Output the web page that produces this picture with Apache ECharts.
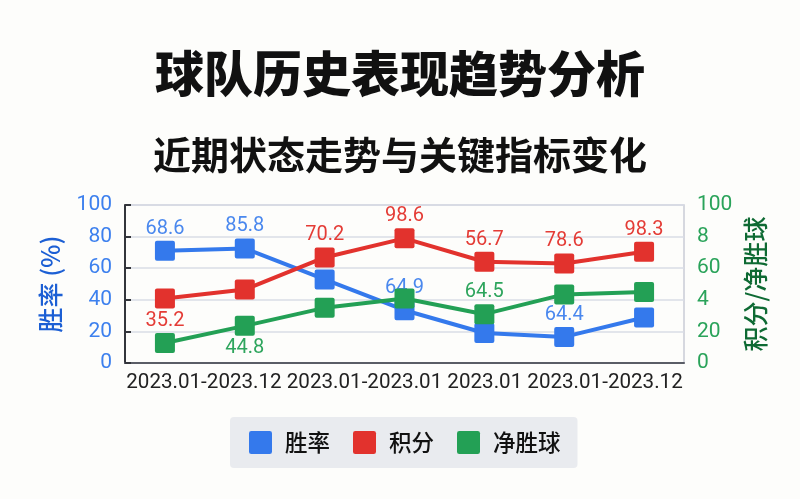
<!DOCTYPE html>
<html>
<head>
<meta charset="utf-8">
<script src="https://cdn.jsdelivr.net/npm/echarts@6/dist/echarts.min.js"></script>
<style>
html,body{margin:0;padding:0;background:#fdfdfb;}
#c{width:800px;height:499px;}
</style>
</head>
<body>
<div id="c"></div>
<script>
// ---- data ----
const categories = ['第1期', '第2期', '第3期', '第4期', '第5期', '第6期', '第7期'];
const xTickLabels = ['2023.01-2023.12', '2023.01-2023.01', '2023.01', '2023.01-2023.12'];
const leftTickLabels = ['0', '20', '40', '60', '80', '100'];
const rightTickLabels = ['0', '20', '4', '60', '8', '100'];
const seriesNames = ['胜率', '积分', '净胜球'];
const winRate = [71.0, 72.5, 52.9, 33.4, 19.0, 16.5, 28.8];
const points = [40.8, 46.5, 66.8, 78.9, 64.1, 63.0, 70.4];
const goalDiff = [12.7, 23.5, 34.9, 40.8, 30.9, 43.4, 45.0];
const winRateLabels = ['68.6', '85.8', '', '64.9', '', '64.4', ''];
const pointsLabels = ['35.2', '', '70.2', '98.6', '56.7', '78.6', '98.3'];
const goalDiffLabels = ['', '44.8', '', '', '64.5', '', ''];

const colors = ['#3479ec', '#e2322d', '#23a055'];
const labelColors = ['#4a88ee', '#e43c36', '#2ea55d'];
const FONT = "Roboto, 'Noto Sans CJK SC', sans-serif";
const CJK = "'Noto Sans CJK SC', sans-serif";
const squareIcon = 'path://M2,0 H18 A2,2 0 0 1 20,2 V18 A2,2 0 0 1 18,20 H2 A2,2 0 0 1 0,18 V2 A2,2 0 0 1 2,0 Z';

function buildSeries(idx, values, labels, belowIdx, yAxisIndex) {
  return {
    name: seriesNames[idx],
    type: 'line',
    yAxisIndex: yAxisIndex,
    data: values.map((v, i) => ({
      value: v,
      label: { position: belowIdx.indexOf(i) >= 0 ? 'bottom' : 'top' }
    })),
    symbol: squareIcon,
    symbolSize: 20,
    lineStyle: { width: 4, color: colors[idx] },
    itemStyle: { color: colors[idx] },
    label: {
      show: true,
      distance: 2,
      fontFamily: FONT,
      fontSize: 20,
      color: labelColors[idx],
      formatter: p => labels[p.dataIndex]
    },
    z: 3 + idx
  };
}

const chart = echarts.init(document.getElementById('c'));
chart.setOption({
  backgroundColor: '#fdfdfb',
  animation: false,
  color: colors,
  title: [
    {
      text: '球队历史表现趋势分析',
      left: 'center',
      top: 44,
      textStyle: { fontFamily: CJK, fontSize: 49, fontWeight: 900, color: '#111' }
    },
    {
      text: '近期状态走势与关键指标变化',
      left: 'center',
      top: 131,
      textStyle: { fontFamily: CJK, fontSize: 38, fontWeight: 700, color: '#111' }
    }
  ],
  legend: {
    bottom: 31,
    left: 230,
    data: seriesNames.map(n => ({ name: n, icon: squareIcon })),
    itemWidth: 23,
    itemHeight: 23,
    itemGap: 23,
    backgroundColor: '#e9ebef',
    borderRadius: 4,
    padding: [14, 17, 14, 19],
    textStyle: { fontFamily: CJK, fontSize: 22.5, fontWeight: 500, color: '#111', padding: [0, 0, 0, 8] }
  },
  grid: {
    left: 125, right: 116, top: 205, bottom: 136,
    show: true, borderColor: '#c9ccd6', borderWidth: 1.5
  },
  xAxis: {
    type: 'category',
    data: categories,
    boundaryGap: true,
    axisLine: { lineStyle: { color: '#5a5d66', width: 2 } },
    axisTick: { show: false },
    axisLabel: {
      interval: 0,
      margin: 10,
      fontFamily: FONT,
      fontSize: 20.6,
      color: '#222',
      formatter: (v, i) => (i === 3 ? xTickLabels.join(' ') : '')
    }
  },
  yAxis: [
    {
      type: 'value',
      min: 0, max: 100, interval: 20,
      name: '胜率 (%)',
      nameLocation: 'middle',
      nameRotate: 90,
      nameGap: 62,
      nameTextStyle: { fontFamily: CJK, fontSize: 25, fontWeight: 500, color: '#1c5fd4' },
      axisLine: { show: true, lineStyle: { color: '#33353b', width: 2 } },
      axisTick: { show: true, inside: true, length: 6, lineStyle: { color: '#33353b', width: 2 } },
      axisLabel: {
        margin: 13, fontFamily: FONT, fontSize: 21, color: '#3d80ee',
        formatter: v => leftTickLabels[Math.round(v / 20)]
      },
      splitLine: { show: true, lineStyle: { color: '#d9dce6', width: 1.5 } }
    },
    {
      type: 'value',
      min: 0, max: 100, interval: 20,
      name: '积分/净胜球',
      nameLocation: 'middle',
      nameRotate: 90,
      nameGap: 55,
      nameTextStyle: { fontFamily: CJK, fontSize: 25, fontWeight: 500, color: '#0e6a33' },
      axisLine: { show: false },
      axisTick: { show: false },
      axisLabel: {
        margin: 13, fontFamily: FONT, fontSize: 21, color: '#2aa35a',
        formatter: v => rightTickLabels[Math.round(v / 20)]
      },
      splitLine: { show: false }
    }
  ],
  series: [
    buildSeries(0, winRate, winRateLabels, [], 0),
    buildSeries(1, points, pointsLabels, [0], 0),
    buildSeries(2, goalDiff, goalDiffLabels, [1], 1)
  ]
});
</script>
</body>
</html>
